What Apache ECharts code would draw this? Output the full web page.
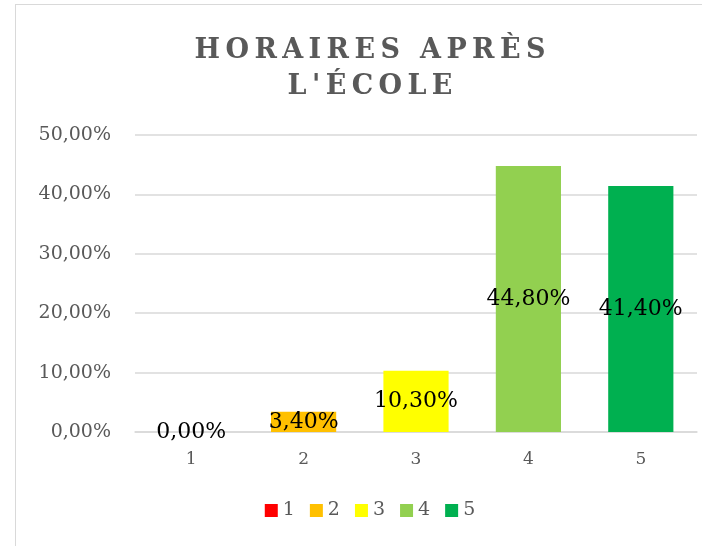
<!DOCTYPE html>
<html><head><meta charset="utf-8">
<script src="https://cdn.jsdelivr.net/npm/echarts@6/dist/echarts.min.js"></script>
<style>
html,body{margin:0;padding:0;background:#fff;overflow:hidden;width:702px;height:546px;}
#c{width:702px;height:546px;position:relative;overflow:hidden;}
#frame{position:absolute;left:15px;top:4px;width:720px;height:600px;border:1px solid #d9d9d9;box-sizing:border-box;}
</style></head>
<body>
<div id="c"><div id="frame"></div><div id="chart" style="position:absolute;left:0;top:0;width:740px;height:546px;"></div></div>
<script>
const categories = ['1','2','3','4','5'];
const values = [0, 3.4, 10.3, 44.8, 41.4];
const colors = ['#FF0000','#FFC000','#FFFF00','#92D050','#00B050'];
const yTicks = [0,10,20,30,40,50];
const titleText = 'HORAIRES APRÈS\nL\'ÉCOLE';

const fmt = v => v.toFixed(2).replace('.', ',') + '%';
const FONT = '"DejaVu Serif", "Liberation Serif", serif';
// letter-spaced title using thin spaces
const spaced = titleText.split('\n').map(l => l.split('').join('\u2009')).join('\n');

const series = categories.map((name, i) => ({
  name: name,
  type: 'bar',
  stack: 'all',
  barWidth: '58%',
  data: categories.map((c, j) => j === i ? values[i] : null),
  itemStyle: { color: colors[i] },
  label: {
    show: true, position: 'inside', color: '#000', fontFamily: FONT, fontSize: 22,
    formatter: p => p.value == null ? '' : fmt(p.value)
  }
}));

const chart = echarts.init(document.getElementById('chart'));
chart.setOption({
  animation: false,
  title: {
    text: spaced,
    left: 'center', top: 28,
    textStyle: { fontFamily: FONT, fontSize: 27, fontWeight: 'bold', color: '#595959', lineHeight: 36 }
  },
  legend: {
    bottom: 21, left: 'center', itemWidth: 13, itemHeight: 13, itemGap: 15,
    icon: 'rect',
    textStyle: { fontFamily: FONT, fontSize: 19, color: '#595959' },
    data: categories
  },
  grid: { left: 135, right: 43, top: 135, bottom: 114 },
  xAxis: {
    type: 'category', data: categories,
    axisLine: { lineStyle: { color: '#d9d9d9', width: 1.5 } },
    axisTick: { show: false },
    axisLabel: { fontFamily: FONT, fontSize: 17, color: '#595959', margin: 19 }
  },
  yAxis: {
    type: 'value', min: yTicks[0], max: yTicks[yTicks.length-1], interval: 10,
    axisLine: { show: false }, axisTick: { show: false },
    splitLine: { lineStyle: { color: '#d9d9d9', width: 1.5 } },
    axisLabel: { fontFamily: FONT, fontSize: 19, color: '#595959', margin: 24, formatter: v => fmt(v) }
  },
  series: series
});
</script>
</body></html>
